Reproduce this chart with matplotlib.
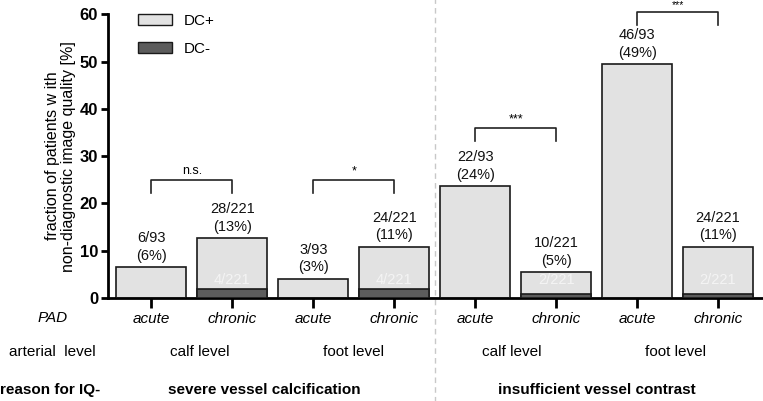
import matplotlib.pyplot as plt
import matplotlib.transforms as mtransforms
from matplotlib.patches import Patch

plt.rcParams['font.family'] = ['Liberation Sans', 'DejaVu Sans']

pad_labels = ['acute', 'chronic', 'acute', 'chronic', 'acute', 'chronic', 'acute', 'chronic']
dc_plus = [6.45, 12.67, 4.1, 10.86, 23.66, 5.4, 49.46, 10.86]
dc_minus = [0, 1.81, 0, 1.81, 0, 0.9, 0, 0.9]
top_labels = ['6/93\n(6%)', '28/221\n(13%)', '3/93\n(3%)', '24/221\n(11%)',
              '22/93\n(24%)', '10/221\n(5%)', '46/93\n(49%)', '24/221\n(11%)']
inner_labels = ['', '4/221', '', '4/221', '', '2/221', '', '2/221']
levels = ['calf level', 'foot level', 'calf level', 'foot level']
level_pos = [0.6, 2.5, 4.45, 6.47]
reasons = ['severe vessel calcification', 'insufficient vessel contrast']
reason_pos = [1.4, 5.5]
# (left bar, right bar, bracket height, leg bottom, text)
brackets = [(0, 1, 25, 22.3, 'n.s.'), (2, 3, 25, 22.3, '*'),
            (4, 5, 36, 33.2, '***'), (6, 7, 60.5, 57.8, '***')]

fig = plt.figure(figsize=(7.63, 4.01), dpi=100)
ax = fig.add_axes([0.1415, 0.2569, 0.8585, 0.7074])

x = list(range(len(dc_plus)))
ax.bar(x, dc_plus, width=0.865, color='#e2e2e2', edgecolor='#1a1a1a', linewidth=1.2, zorder=2)
ax.bar(x, dc_minus, width=0.865, color='#5c5c5c', edgecolor='#1a1a1a', linewidth=1.2, zorder=3)

for i in x:
    ax.annotate(top_labels[i], (i, dc_plus[i]), xytext=(0, 3), textcoords='offset points',
                ha='center', va='bottom', fontsize=10.5, linespacing=1.35, color='#111111')
    if inner_labels[i]:
        ax.text(i, 3.9, inner_labels[i], ha='center', va='center', fontsize=10.5,
                color='#f4f4f4', zorder=4)

for a, b, h, low, t in brackets:
    ax.plot([a, a, b, b], [low, h, h, low], color='#222222', lw=1.2, clip_on=False)
    ax.text((a + b) / 2, h + 0.5, t, ha='center', va='bottom', fontsize=7.5 if h > 55 else 9,
            clip_on=False)

ax.axvline(3.5, ymin=-0.37, ymax=1.06, color='#c8c8c8', lw=1, ls=(0, (4, 3)),
           clip_on=False, zorder=0)

ax.set_xlim(-0.5375, 7.556)
ax.set_ylim(0, 60)
ax.set_yticks([0, 10, 20, 30, 40, 50, 60])
for lab in ax.get_yticklabels():
    lab.set_fontweight('bold')
ax.tick_params(axis='y', labelsize=12, length=5, width=2, pad=2)
ax.set_xticks(x)
ax.set_xticklabels(pad_labels, fontstyle='italic', fontsize=11)
ax.tick_params(axis='x', length=7, width=2, pad=3)
ax.spines['top'].set_visible(False)
ax.spines['right'].set_visible(False)
ax.spines['left'].set_linewidth(2)
ax.spines['bottom'].set_linewidth(2)

ax.set_ylabel('fraction of patients w ith\nnon-diagnostic image quality [%]',
              fontsize=11.5, linespacing=1.1, labelpad=3)

handles = [Patch(facecolor='#e2e2e2', edgecolor='#1a1a1a', label='DC+'),
           Patch(facecolor='#5c5c5c', edgecolor='#1a1a1a', label='DC-')]
ax.legend(handles=handles, loc='upper left', bbox_to_anchor=(0.025, 1.05), frameon=False,
          fontsize=11, handlelength=2.2, handleheight=0.7, labelspacing=0.9)

trans = mtransforms.blended_transform_factory(ax.transData, fig.transFigure)
fig.text(53 / 763, 1 - 318 / 401, 'PAD', fontstyle='italic', fontsize=11, ha='center', va='center')
fig.text(52 / 763, 1 - 352 / 401, 'arterial  level', fontsize=11, ha='center', va='center')
fig.text(0.0, 1 - 390 / 401, 'reason for IQ-', fontsize=11, fontweight='bold', ha='left', va='center')
for lv, p in zip(levels, level_pos):
    ax.text(p, 1 - 352 / 401, lv, transform=trans, fontsize=11, ha='center', va='center')
for r, p in zip(reasons, reason_pos):
    ax.text(p, 1 - 390 / 401, r, transform=trans, fontsize=11, fontweight='bold',
            ha='center', va='center')

fig.savefig('out.png', dpi=100)
